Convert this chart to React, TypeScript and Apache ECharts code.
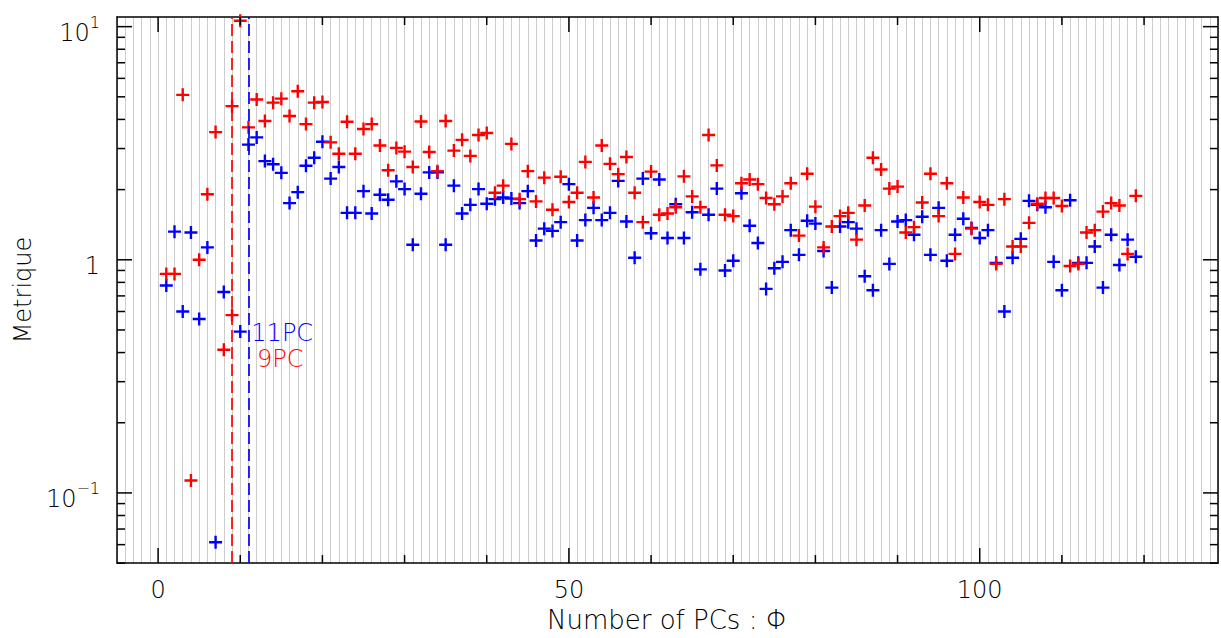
import React, { useEffect, useRef } from 'react';
import * as echarts from 'echarts';

// Number of principal components (x)
const pcCounts: number[] = Array.from({ length: 119 }, (_, i) => i + 1);

// Red series (metric per number of PCs)
const redMetric: number[] = [
  0.87, 0.87, 5.1, 0.113, 1.0, 1.91, 3.53, 0.411, 4.56, 10.6, 3.7,
  4.87, 3.94, 4.72, 4.91, 4.14, 5.28, 3.82, 4.72, 4.75, 3.19, 2.85, 3.91, 2.85, 3.64, 3.82, 3.09, 2.42, 3.02,
  2.91, 2.5, 3.92, 2.9, 2.4, 3.94, 2.94, 3.27, 2.79, 3.43, 3.5, 1.94, 2.08, 3.14, 1.82, 2.4, 1.78, 2.25, 1.64,
  2.27, 1.77, 1.94, 2.63, 1.85, 3.09, 2.58, 2.33, 2.76, 1.94, 1.45, 2.39, 1.56, 1.58, 1.68, 2.28, 1.87,
  1.68, 3.43, 2.54, 1.56, 1.54, 2.13, 2.21, 2.11, 1.84, 1.73, 1.87, 2.13, 1.27, 2.34, 1.69, 1.13, 1.39, 1.54,
  1.59, 1.22, 1.71, 2.74, 2.44, 2.02, 2.06, 1.31, 1.38, 1.76, 2.34, 1.54, 2.13, 1.06, 1.85, 1.36, 1.77, 1.72, 0.96,
  1.82, 1.14, 1.14, 1.44, 1.74, 1.84, 1.84, 1.7, 0.94, 0.96, 1.31, 1.34, 1.61, 1.75, 1.71, 1.06, 1.88,
];

// Extra red point drawn at the 9PC cut
const redExtraX: number[] = [9];
const redExtraY: number[] = [0.579];

// Blue series
const blueMetric: (number | null)[] = [
  0.776, 1.32, 0.6, 1.31, 0.557, 1.13, 0.0614, 0.727, null, 0.492, 3.12,
  3.35, 2.65, 2.57, 2.36, 1.75, 1.95, 2.53, 2.74, 3.21, 2.23, 2.5, 1.59, 1.59, 1.97, 1.58, 1.9, 1.81, 2.17,
  2.01, 1.16, 1.92, 2.37, 2.37, 1.16, 2.08, 1.58, 1.72, 2.01, 1.74, 1.82, 1.85, 1.83, 1.75, 1.97, 1.21, 1.36, 1.33,
  1.45, 2.11, 1.21, 1.48, 1.67, 1.48, 1.59, 2.18, 1.46, 1.02, 2.23, 1.3, 2.21, 1.24, 1.73, 1.24, 1.6,
  0.91, 1.56, 2.02, 0.9, 0.99, 1.93, 1.4, 1.18, 0.75, 0.92, 0.98, 1.34, 1.05, 1.47, 1.43, 1.09, 0.76, 1.39,
  1.45, 1.36, 0.85, 0.74, 1.34, 0.96, 1.46, 1.48, 1.28, 1.53, 1.05, 1.67, 0.99, 1.28, 1.5, 1.37, 1.24, 1.34, 0.97,
  0.6, 1.02, 1.23, 1.79, 1.72, 1.68, 0.98, 0.74, 1.8, 0.97, 0.97, 1.14, 0.76, 1.28, 0.95, 1.22, 1.03,
];

const redCut = 9;
const blueCut = 11;
const redCutLabel = '9PC';
const blueCutLabel = '11PC';

// Axis ticks
const xRange = [-5, 129];
const yRange = [0.05, 11];
const xLabelTicks = [0, 50, 100];
const xMinorTicks = [10, 20, 30, 40, 60, 70, 80, 90, 110, 120];
const yMajorTicks = [0.1, 1, 10];
const yMinorTicks = [
  0.05, 0.06, 0.07, 0.08, 0.09,
  0.2, 0.3, 0.4, 0.5, 0.6, 0.7, 0.8, 0.9,
  2, 3, 4, 5, 6, 7, 8, 9,
];

const xTitle = 'Number of PCs : Φ';
const yTitle = 'Metrique';

const FONT = 'DejaVu Sans';
const FW = 200;
const RED = '#ff0000';
const BLUE = '#0000ff';
const PLUS = 'path://M4.9,0H7.1V4.9H12V7.1H7.1V12H4.9V7.1H0V4.9H4.9Z';

export default function App() {
  const ref = useRef<HTMLDivElement>(null);

  useEffect(() => {
    document.body.style.margin = '0';
    if (!ref.current) return;
    const chart = echarts.init(ref.current, undefined, { renderer: 'svg' });

    const redData: [number, number][] = pcCounts.map((x, i) => [x, redMetric[i]]);
    redExtraX.forEach((x, i) => redData.push([x, redExtraY[i]]));
    const blueData: [number, number][] = [];
    pcCounts.forEach((x, i) => {
      const v = blueMetric[i];
      if (v !== null) blueData.push([x, v]);
    });

    const tickStyle = { stroke: '#000', lineWidth: 1.5 };

    const xTickData = [
      ...xLabelTicks.map((v) => [v, 1, 15]),
      ...xMinorTicks.map((v) => [v, 1, 8]),
    ];
    const yTickData = [
      ...yMajorTicks.map((v) => [0, v, 15]),
      ...yMinorTicks.map((v) => [0, v, 8]),
    ];

    const isPow10 = (v: number) => {
      const l = Math.log10(v);
      return Math.abs(l - Math.round(l)) < 1e-6;
    };

    chart.setOption({
      animation: false,
      backgroundColor: '#ffffff',
      grid: { left: 117, top: 17, right: 1, bottom: 69, containLabel: false },
      xAxis: [
        {
          type: 'value',
          position: 'bottom',
          min: xRange[0],
          max: xRange[1],
          interval: 1,
          axisLine: { show: true, onZero: false, lineStyle: { color: '#000', width: 1.5 } },
          axisTick: { show: false },
          splitLine: { show: true, lineStyle: { color: '#cccccc', width: 1 } },
          axisLabel: {
            formatter: (v: number) => (xLabelTicks.includes(v) ? String(v) : ''),
            fontSize: 24,
            fontFamily: FONT,
            fontWeight: FW,
            color: '#000',
            margin: 15,
          },
          name: xTitle,
          nameLocation: 'middle',
          nameGap: 29,
          nameTextStyle: { fontSize: 26, fontFamily: FONT, fontWeight: FW, color: '#000' },
        },
        {
          type: 'value',
          position: 'top',
          min: xRange[0],
          max: xRange[1],
          axisLine: { show: true, onZero: false, lineStyle: { color: '#000', width: 1.5 } },
          axisTick: { show: false },
          splitLine: { show: false },
          axisLabel: { show: false },
        },
      ],
      yAxis: [
        {
          type: 'log',
          logBase: 10,
          min: yRange[0],
          max: yRange[1],
          axisLine: { show: true, onZero: false, lineStyle: { color: '#000', width: 1.5 } },
          axisTick: { show: false },
          splitLine: { show: false },
          axisLabel: {
            margin: 17,
            color: '#000',
            formatter: (v: number) => {
              if (!isPow10(v)) return '';
              const e = Math.round(Math.log10(v));
              if (e === 0) return '{b|1}';
              return '{b|10}{s|' + (e < 0 ? '−' + -e : String(e)) + '}';
            },
            rich: {
              b: { fontSize: 24, fontFamily: FONT, fontWeight: FW, color: '#000', lineHeight: 24, padding: [6, 0, 10, 0], verticalAlign: 'top' },
              s: { fontSize: 16, fontFamily: FONT, fontWeight: FW, color: '#000', lineHeight: 16, verticalAlign: 'top' },
            },
          },
          name: yTitle,
          nameLocation: 'middle',
          nameGap: 82,
          nameRotate: 90,
          nameTextStyle: { fontSize: 24, fontFamily: FONT, fontWeight: FW, color: '#000' },
        },
        {
          type: 'log',
          logBase: 10,
          position: 'right',
          min: yRange[0],
          max: yRange[1],
          axisLine: { show: true, onZero: false, lineStyle: { color: '#000', width: 1.5 } },
          axisTick: { show: false },
          splitLine: { show: false },
          axisLabel: { show: false },
        },
      ],
      series: [
        {
          type: 'custom',
          name: 'xticks',
          silent: true,
          z: 10,
          encode: { x: 0, y: 1 },
          data: xTickData,
          renderItem: (params: any, api: any) => {
            const cs = params.coordSys;
            const x = api.coord([api.value(0), 1])[0];
            const len = api.value(2);
            const b = cs.y + cs.height;
            return {
              type: 'group',
              children: [
                { type: 'line', shape: { x1: x, y1: b, x2: x, y2: b - len }, style: tickStyle },
                { type: 'line', shape: { x1: x, y1: cs.y, x2: x, y2: cs.y + len }, style: tickStyle },
              ],
            };
          },
        },
        {
          type: 'custom',
          name: 'yticks',
          silent: true,
          z: 10,
          encode: { x: 0, y: 1 },
          data: yTickData,
          renderItem: (params: any, api: any) => {
            const cs = params.coordSys;
            const y = api.coord([0, api.value(1)])[1];
            const len = api.value(2);
            const r = cs.x + cs.width;
            return {
              type: 'group',
              children: [
                { type: 'line', shape: { x1: cs.x, y1: y, x2: cs.x + len, y2: y }, style: tickStyle },
                { type: 'line', shape: { x1: r, y1: y, x2: r - len, y2: y }, style: tickStyle },
              ],
            };
          },
        },
        {
          type: 'scatter',
          name: 'blue',
          symbol: PLUS,
          symbolSize: 13,
          itemStyle: { color: BLUE, opacity: 1 },
          data: blueData,
          z: 3,
          markLine: {
            silent: true,
            symbol: ['none', 'none'],
            label: { show: false },
            lineStyle: { color: BLUE, width: 2, type: [12, 5], opacity: 0.85 },
            data: [{ xAxis: blueCut }],
          },
          markPoint: {
            silent: true,
            symbol: 'circle',
            symbolSize: 0,
            label: {
              show: true,
              position: 'right',
              distance: 0,
              formatter: blueCutLabel,
              color: BLUE,
              fontSize: 24,
              lineHeight: 19,
              fontFamily: FONT,
              fontWeight: FW,
            },
            data: [{ coord: [11.35, 0.485] }],
          },
        },
        {
          type: 'scatter',
          name: 'red',
          symbol: PLUS,
          symbolSize: 13,
          itemStyle: { color: RED, opacity: 1 },
          data: redData,
          z: 4,
          markLine: {
            silent: true,
            symbol: ['none', 'none'],
            label: { show: false },
            lineStyle: { color: RED, width: 2, type: [12, 5], opacity: 0.85 },
            data: [{ xAxis: redCut }],
          },
          markPoint: {
            silent: true,
            symbol: 'circle',
            symbolSize: 0,
            label: {
              show: true,
              position: 'right',
              distance: 0,
              formatter: redCutLabel,
              color: RED,
              fontSize: 24,
              lineHeight: 19,
              fontFamily: FONT,
              fontWeight: FW,
            },
            data: [{ coord: [12.05, 0.375] }],
          },
        },
      ],
    });

    return () => {
      chart.dispose();
    };
  }, []);

  return <div ref={ref} style={{ width: 1221, height: 638 }} />;
}
